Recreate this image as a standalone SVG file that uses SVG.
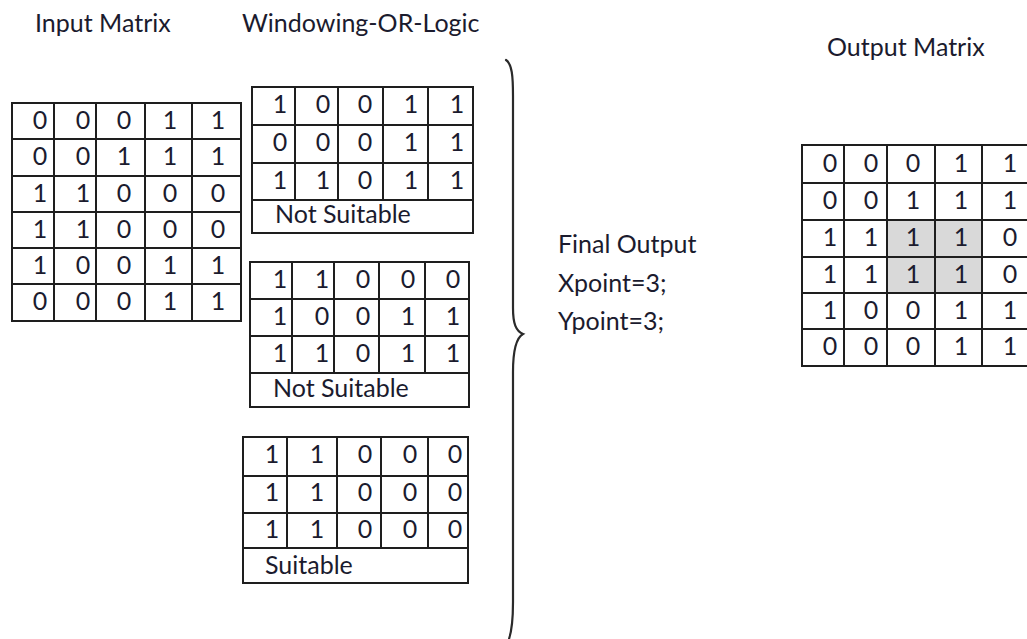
<svg xmlns="http://www.w3.org/2000/svg" width="1027" height="639" viewBox="0 0 1027 639">
  <style>
    .grid { fill: none; stroke: #1e1e1e; stroke-width: 2; }
    .cell { font-family: Lato, "Liberation Sans", sans-serif; font-size: 25px; fill: #1b1b2e; text-anchor: middle; }
    .label { font-family: Lato, "Liberation Sans", sans-serif; font-size: 25px; fill: #1b1b2e; }
    .brace { fill: none; stroke: #2a2a2a; stroke-width: 2.2; stroke-linecap: round; }
  </style>

  <rect width="1027" height="639" fill="#ffffff"/>

  <!-- titles -->
  <g id="titles">
    <text class="label" x="35" y="32">Input Matrix</text>
    <text class="label" x="242" y="32">Windowing-OR-Logic</text>
    <text class="label" x="827" y="56">Output Matrix</text>
  </g>

  <!-- input matrix, 6 x 5 -->
  <g id="input-matrix">
    <path class="grid" d="M12 103H241V321H12Z M54 103V321 M96 103V321 M145 103V321 M192 103V321 M12 139H241 M12 176H241 M12 212H241 M12 248H241 M12 284H241"/>
    <g class="cell">
      <text x="40" y="129">0</text><text x="83" y="129">0</text><text x="124" y="129">0</text><text x="170" y="129">1</text><text x="218" y="129">1</text>
      <text x="40" y="165">0</text><text x="83" y="165">0</text><text x="124" y="165">1</text><text x="170" y="165">1</text><text x="218" y="165">1</text>
      <text x="40" y="202">1</text><text x="83" y="202">1</text><text x="124" y="202">0</text><text x="170" y="202">0</text><text x="218" y="202">0</text>
      <text x="40" y="238">1</text><text x="83" y="238">1</text><text x="124" y="238">0</text><text x="170" y="238">0</text><text x="218" y="238">0</text>
      <text x="40" y="274">1</text><text x="83" y="274">0</text><text x="124" y="274">0</text><text x="170" y="274">1</text><text x="218" y="274">1</text>
      <text x="40" y="310">0</text><text x="83" y="310">0</text><text x="124" y="310">0</text><text x="170" y="310">1</text><text x="218" y="310">1</text>
    </g>
  </g>

  <!-- window 1 -->
  <g id="window-1">
    <path class="grid" d="M252 87H473V233H252Z M295 87V200 M338 87V200 M383 87V200 M428 87V200 M252 125H473 M252 163H473 M252 200H473"/>
    <g class="cell">
      <text x="280" y="113">1</text><text x="323" y="113">0</text><text x="365" y="113">0</text><text x="411" y="113">1</text><text x="457" y="113">1</text>
      <text x="280" y="151">0</text><text x="323" y="151">0</text><text x="365" y="151">0</text><text x="411" y="151">1</text><text x="457" y="151">1</text>
      <text x="280" y="189">1</text><text x="323" y="189">1</text><text x="365" y="189">0</text><text x="411" y="189">1</text><text x="457" y="189">1</text>
    </g>
    <text class="label" x="275" y="223">Not Suitable</text>
  </g>

  <!-- window 2 -->
  <g id="window-2">
    <path class="grid" d="M250 262H469V407H250Z M292 262V373 M334 262V373 M379 262V373 M425 262V373 M250 299H469 M250 336H469 M250 373H469"/>
    <g class="cell">
      <text x="280" y="288">1</text><text x="322" y="288">1</text><text x="363" y="288">0</text><text x="408" y="288">0</text><text x="453" y="288">0</text>
      <text x="280" y="325">1</text><text x="322" y="325">0</text><text x="363" y="325">0</text><text x="408" y="325">1</text><text x="453" y="325">1</text>
      <text x="280" y="362">1</text><text x="322" y="362">1</text><text x="363" y="362">0</text><text x="408" y="362">1</text><text x="453" y="362">1</text>
    </g>
    <text class="label" x="273" y="397">Not Suitable</text>
  </g>

  <!-- window 3 -->
  <g id="window-3">
    <path class="grid" d="M243 437H468V583H243Z M287 437V548 M337 437V548 M381 437V548 M428 437V548 M243 476H468 M243 513H468 M243 548H468"/>
    <g class="cell">
      <text x="272" y="463">1</text><text x="317" y="463">1</text><text x="365" y="463">0</text><text x="410" y="463">0</text><text x="455" y="463">0</text>
      <text x="272" y="501">1</text><text x="317" y="501">1</text><text x="365" y="501">0</text><text x="410" y="501">0</text><text x="455" y="501">0</text>
      <text x="272" y="538">1</text><text x="317" y="538">1</text><text x="365" y="538">0</text><text x="410" y="538">0</text><text x="455" y="538">0</text>
    </g>
    <text class="label" x="265" y="574">Suitable</text>
  </g>

  <!-- closing brace gathering the windows -->
  <g id="brace">
    <path class="brace" d="M506 60 C512 64 513 76 513 96 L513 308 C513 324 516 331 523 334 C516 338 513 350 513 372 L513 602 C513 620 512 630 509 639"/>
  </g>

  <!-- result text -->
  <g id="final-output">
    <text class="label" x="558" y="253">Final Output</text>
    <text class="label" x="558" y="292">Xpoint=3;</text>
    <text class="label" x="558" y="330">Ypoint=3;</text>
  </g>

  <!-- output matrix with the detected 2 x 2 block shaded -->
  <g id="output-matrix">
    <rect x="887" y="220" width="95" height="73" fill="#d9d9d9"/>
    <path class="grid" d="M802 145H1029V366H802Z M844 145V366 M887 145V366 M935 145V366 M982 145V366 M802 183H1029 M802 220H1029 M802 257H1029 M802 293H1029 M802 329H1029"/>
    <g class="cell">
      <text x="830" y="172">0</text><text x="871" y="172">0</text><text x="913" y="172">0</text><text x="961" y="172">1</text><text x="1010" y="172">1</text>
      <text x="830" y="209">0</text><text x="871" y="209">0</text><text x="913" y="209">1</text><text x="961" y="209">1</text><text x="1010" y="209">1</text>
      <text x="830" y="246">1</text><text x="871" y="246">1</text><text x="913" y="246">1</text><text x="961" y="246">1</text><text x="1010" y="246">0</text>
      <text x="830" y="283">1</text><text x="871" y="283">1</text><text x="913" y="283">1</text><text x="961" y="283">1</text><text x="1010" y="283">0</text>
      <text x="830" y="319">1</text><text x="871" y="319">0</text><text x="913" y="319">0</text><text x="961" y="319">1</text><text x="1010" y="319">1</text>
      <text x="830" y="355">0</text><text x="871" y="355">0</text><text x="913" y="355">0</text><text x="961" y="355">1</text><text x="1010" y="355">1</text>
    </g>
  </g>
</svg>
